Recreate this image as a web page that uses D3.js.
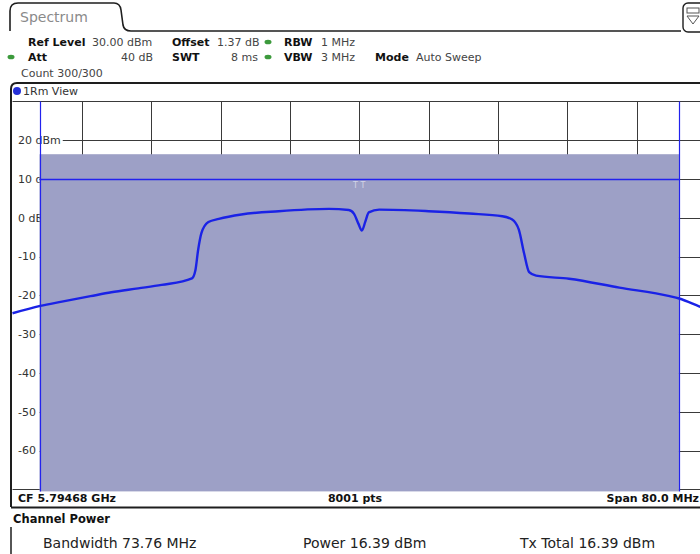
<!DOCTYPE html>
<html>
<head>
<meta charset="utf-8">
<script src="https://cdn.jsdelivr.net/npm/d3@7"></script>
<style>
  body { margin: 0; background: #fff; }
  svg { display: block; font-family: "DejaVu Sans", Verdana, sans-serif; }
</style>
</head>
<body>
<svg id="chart" width="700" height="554"></svg>
<script>
// trace: offset from CF in MHz, level in dBm
const freqMHz = [-40, -36.8, -34.3, -31, -28.6, -25.5, -22.8, -19.3, -18.9, -18.6, -18.2, -17.4, -16.2, -13.6, -9.3,
    -3.5, -1.2, -0.6, -0.1, 0.3, 0.7, 1.1, 2.3, 8.0, 12.7, 16.5, 17.6, 18.4, 19.0, 19.6, 20.4,
    24.2, 30.0, 35.8, 36.9, 39.2, 40];
const traceDbm = [-24.6, -22.7, -21.6, -20.2, -19.2, -18.2, -17.3, -15.6, -13.5, -8.5, -3.9, -1.1, -0.3, 0.85, 1.7,
    2.3, 2.0, 1.0, -1.5, -3.3, -1.0, 1.4, 2.1, 1.7, 1.1, 0.4, -0.4, -3.0, -9.0, -14.0, -14.9,
    -15.7, -18.0, -20.2, -20.8, -22.8, -23.5];

const levelTicks = [20, 10, 0, -10, -20, -30, -40, -50, -60];
const levelLabels = ["20 dBm", "10 dBm", "0 dBm", "-10", "-20", "-30", "-40", "-50", "-60"];
const freqTicks = [-32, -24, -16, -8, 0, 8, 16, 24, 32, 40];

const refLevel = 30, bottomLevel = -70;
const spanMHz = 80;
const channelBwMHz = 73.76;
const txTotalDbm = 16.39;
const limitDbm = 10;

const svg = d3.select("#chart");

const x = d3.scaleLinear().domain([-spanMHz / 2, spanMHz / 2]).range([12.5, 706]);
const y = d3.scaleLinear().domain([bottomLevel, refLevel]).range([489.4, 101.4]);

const ink = "#1e1e1e";
const blue = "#2222ee";

// ---- header tab
svg.append("path")
    .attr("d", "M10,31 L10,11 Q10,3 18,3 L114,3 Q120,3 121,10 L123,25 Q124,31 131,31 L681,31")
    .attr("fill", "none").attr("stroke", ink).attr("stroke-width", 1.6);
svg.append("text").attr("x", 20).attr("y", 22).attr("font-size", 14).attr("fill", "#8a8a8a").text("Spectrum");

// little icon top right
svg.append("rect").attr("x", 683).attr("y", 3).attr("width", 22).attr("height", 29).attr("rx", 5)
    .attr("fill", "#fff").attr("stroke", ink).attr("stroke-width", 1.4);
svg.append("rect").attr("x", 687).attr("y", 8).attr("width", 12).attr("height", 5)
    .attr("fill", "none").attr("stroke", "#555");
svg.append("path").attr("d", "M687,16 L699,16 L693,24 Z").attr("fill", "none").attr("stroke", "#555");

// ---- settings block
const hdr = svg.append("g").attr("font-size", 11).attr("fill", "#222");
function label(xp, yp, txt, bold, anchor) {
    hdr.append("text").attr("x", xp).attr("y", yp)
        .attr("font-weight", bold ? "bold" : "normal")
        .attr("text-anchor", anchor || "start")
        .attr("fill", bold ? "#111" : "#444")
        .text(txt);
}
label(28, 46, "Ref Level", true);
label(92, 46, "30.00 dBm", false);
label(172, 46, "Offset", true);
label(217, 46, "1.37 dB", false);
label(284, 46, "RBW", true);
label(321, 46, "1 MHz", false);
label(28, 61, "Att", true);
label(153, 61, "40 dB", false, "end");
label(172, 61, "SWT", true);
label(258, 61, "8 ms", false, "end");
label(284, 61, "VBW", true);
label(321, 61, "3 MHz", false);
label(375, 61, "Mode", true);
label(416, 61, "Auto Sweep", false);
label(21, 77, "Count 300/300", false);

[[268, 42], [11, 57], [268, 57]].forEach(p => {
    svg.append("ellipse").attr("cx", p[0]).attr("cy", p[1]).attr("rx", 3.5).attr("ry", 2.3).attr("fill", "#3c9a3c");
});

// ---- diagram window
svg.append("path")
    .attr("d", "M11,507 L11,89 Q11,83 17,83 L705,83")
    .attr("fill", "none").attr("stroke", ink).attr("stroke-width", 2);
svg.append("circle").attr("cx", 17).attr("cy", 91).attr("r", 4).attr("fill", "#2530d8");
svg.append("text").attr("x", 23).attr("y", 95).attr("font-size", 11).attr("fill", "#333").text("1Rm View");

// grid
const grid = svg.append("g").attr("stroke", "#3a3a3a").attr("stroke-width", 1);
d3.range(bottomLevel, refLevel + 1, 10).forEach(v => {
    grid.append("line").attr("x1", x.range()[0]).attr("x2", 700)
        .attr("y1", Math.round(y(v)) + 0.5).attr("y2", Math.round(y(v)) + 0.5);
});
freqTicks.forEach(f => {
    grid.append("line").attr("x1", Math.round(x(f)) + 0.5).attr("x2", Math.round(x(f)) + 0.5)
        .attr("y1", y(refLevel)).attr("y2", y(bottomLevel));
});

const chL = x(-channelBwMHz / 2), chR = x(channelBwMHz / 2);

// level labels with white backing (backing reaches the channel edge below the power level)
const lab = svg.append("g").attr("font-size", 11).attr("fill", "#333");
levelTicks.forEach((v, i) => {
    const t = lab.append("text").attr("x", 18).attr("y", y(v)).attr("dy", "0.35em").text(levelLabels[i]);
    const bb = t.node().getBBox();
    const right = v < txTotalDbm ? chL : bb.x + bb.width + 2;
    lab.insert("rect", "text").attr("x", 12).attr("y", bb.y - 1)
        .attr("width", right - 12).attr("height", bb.height + 2).attr("fill", "#fff");
});

// channel power area
svg.append("rect")
    .attr("x", chL).attr("y", y(txTotalDbm))
    .attr("width", chR - chL).attr("height", y(bottomLevel) - y(txTotalDbm) + 2)
    .attr("fill", "#9da0c6");

// limit line and channel edges
svg.append("line").attr("x1", chL).attr("x2", chR)
    .attr("y1", Math.round(y(limitDbm)) + 0.5).attr("y2", Math.round(y(limitDbm)) + 0.5)
    .attr("stroke", blue).attr("stroke-width", 1.3);
[chL, chR].forEach(cx => {
    svg.append("line").attr("x1", Math.round(cx) + 0.5).attr("x2", Math.round(cx) + 0.5)
        .attr("y1", y(refLevel)).attr("y2", y(bottomLevel) + 2)
        .attr("stroke", blue).attr("stroke-width", 1.2);
});

// faint marker glyph near centre
svg.append("text").attr("x", x(0)).attr("y", y(limitDbm) + 9).attr("text-anchor", "middle")
    .attr("font-size", 8).attr("fill", "#fff").attr("opacity", 0.55).text("T T");

// trace
svg.append("clipPath").attr("id", "plotClip")
    .append("rect").attr("x", 12).attr("y", y(refLevel)).attr("width", 700).attr("height", y(bottomLevel) - y(refLevel));
const line = d3.line()
    .x((d, i) => x(freqMHz[i]))
    .y(d => y(d))
    .curve(d3.curveMonotoneX);
svg.append("path")
    .datum(traceDbm)
    .attr("clip-path", "url(#plotClip)")
    .attr("d", line)
    .attr("fill", "none")
    .attr("stroke", "#1a22e6")
    .attr("stroke-width", 2.4)
    .attr("stroke-linejoin", "round");

// ---- status bar
const sb = svg.append("g").attr("font-size", 11).attr("font-weight", "bold").attr("fill", "#111");
sb.append("text").attr("x", 18).attr("y", 502).text("CF 5.79468 GHz");
sb.append("text").attr("x", 355).attr("y", 502).attr("text-anchor", "middle").text("8001 pts");
sb.append("text").attr("x", 699).attr("y", 502).attr("text-anchor", "end").text("Span 80.0 MHz");
svg.append("line").attr("x1", 11).attr("x2", 700).attr("y1", 507.5).attr("y2", 507.5)
    .attr("stroke", ink).attr("stroke-width", 2);

// ---- channel power results
svg.append("text").attr("x", 13).attr("y", 523).attr("font-size", 11.5).attr("font-weight", "bold")
    .attr("fill", "#111").text("Channel Power");
const res = svg.append("g").attr("font-size", 14).attr("fill", "#222");
res.append("text").attr("x", 43).attr("y", 548).text("Bandwidth  73.76 MHz");
res.append("text").attr("x", 303).attr("y", 548).text("Power  16.39 dBm");
res.append("text").attr("x", 520).attr("y", 548).text("Tx Total  16.39 dBm");
svg.append("line").attr("x1", 11).attr("x2", 11).attr("y1", 527).attr("y2", 554)
    .attr("stroke", ink).attr("stroke-width", 1.5);
</script>
</body>
</html>
